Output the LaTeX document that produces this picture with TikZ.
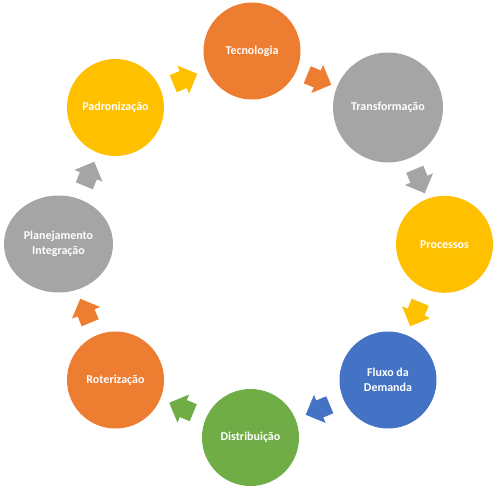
\documentclass[tikz,border=0pt]{standalone}
\usepackage{fontspec}
\setmainfont{Carlito}
\usetikzlibrary{shapes.geometric,shapes.arrows}
\definecolor{cOrange}{HTML}{ED7D31}
\definecolor{cGrey}{HTML}{A5A5A5}
\definecolor{cGold}{HTML}{FFC000}
\definecolor{cBlue}{HTML}{4472C4}
\definecolor{cGreen}{HTML}{70AD47}
\begin{document}
\begin{tikzpicture}[x=1pt,y=-1pt,
  stage/.style={circle,inner sep=0pt,minimum size=97pt,text=white,
    font=\fontsize{12}{14.6}\selectfont\bfseries,align=center},
  cyc/.style={single arrow,draw=none,inner sep=0pt,text height=9pt,text depth=9pt,
    minimum height=26pt,single arrow head extend=6pt}]
\useasboundingbox (0,0) rectangle (500,493);
\fill[white] (0,0) rectangle (500,493);
\node[stage,fill=cOrange] (tec) at (252,51) {Tecnologia};
\node[stage,fill=cGrey,minimum size=110pt] (tra) at (388,107.5) {Transformação};
\node[stage,fill=cGold] (pro) at (444.5,244.3) {Processos};
\node[stage,fill=cBlue] (flu) at (388,380) {Fluxo da\\Demanda};
\node[stage,fill=cGreen] (dis) at (250.5,437.5) {Distribuição};
\node[stage,fill=cOrange] (rot) at (115.5,380) {Roterização};
\node[stage,ellipse,fill=cGrey,minimum width=109pt,minimum height=97pt] (pla) at (58.5,244) {Planejamento\\Integração};
\node[stage,fill=cGold] (pad) at (115.5,107.5) {Padronização};
\node[cyc,fill=cGold,rotate=22.5] (a1) at (181,80.5) {};
\node[cyc,fill=cOrange,rotate=-22.5] (a2) at (315,78) {};
\node[cyc,fill=cGrey,rotate=-67.5] (a3) at (418,177) {};
\node[cyc,fill=cGold,rotate=-112.5] (a4) at (417,310) {};
\node[cyc,fill=cBlue,rotate=-157.5] (a5) at (322,408) {};
\node[cyc,fill=cGreen,rotate=-202.5] (a6) at (185.5,409.5) {};
\node[cyc,fill=cOrange,rotate=-247.5] (a7) at (87,315) {};
\node[cyc,fill=cGrey,rotate=-292.5] (a8) at (87.5,178) {};
\end{tikzpicture}
\end{document}
